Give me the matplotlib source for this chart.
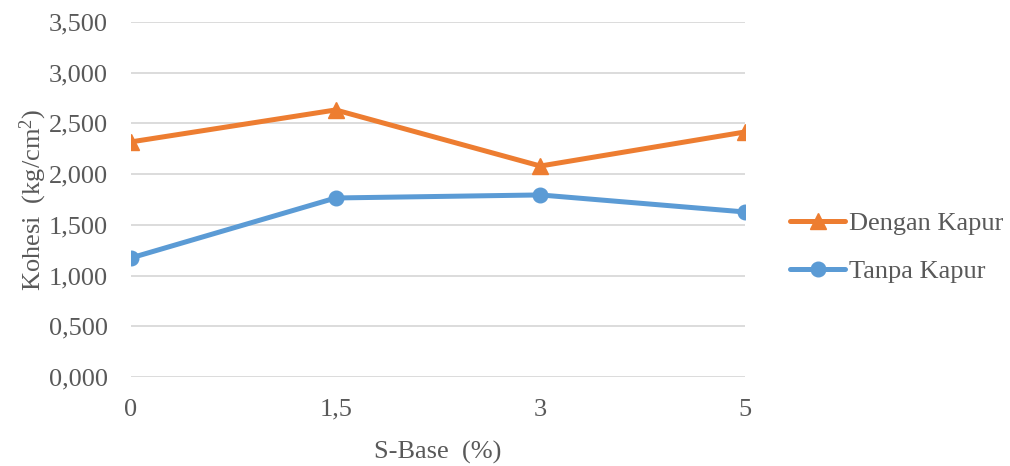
import numpy as np
import matplotlib.pyplot as plt
from matplotlib.ticker import FuncFormatter

# S-Base content (%) and cohesion values (kg/cm2)
categories = ["0", "1,5", "3", "5"]
dengan_kapur = [2.318, 2.633, 2.080, 2.416]
tanpa_kapur = [1.174, 1.765, 1.795, 1.627]

plt.rcParams["font.family"] = ["Liberation Serif", "DejaVu Serif"]
plt.rcParams["mathtext.fontset"] = "custom"
plt.rcParams["mathtext.rm"] = "Liberation Serif"
text_color = "#595959"
fs = 19

fig = plt.figure(figsize=(10.1, 4.66), dpi=100)
ax = fig.add_axes([131 / 1010, 89 / 466, 614 / 1010, 355 / 466])

x = np.arange(len(categories))
ax.plot(x, dengan_kapur, color="#ED7D31", linewidth=3.6, marker="^",
        markersize=11, label="Dengan Kapur", solid_capstyle="round")
ax.plot(x, tanpa_kapur, color="#5B9BD5", linewidth=3.6, marker="o",
        markersize=10.5, label="Tanpa Kapur", solid_capstyle="round")

ax.set_xlim(0, len(categories) - 1)
ax.set_ylim(0, 3.5)
ax.set_yticks(np.arange(0, 3.51, 0.5))
ax.yaxis.set_major_formatter(FuncFormatter(lambda v, p: f"{v:.3f}".replace(".", ",")))
ax.set_xticks(x)
ax.set_xticklabels(categories)

ax.grid(axis="y", color="#D9D9D9", linewidth=1.3)
ax.set_axisbelow(True)
for s in ax.spines.values():
    s.set_visible(False)
ax.tick_params(length=0, labelsize=fs, labelcolor=text_color)
ax.tick_params(axis="y", pad=16.5)
ax.tick_params(axis="x", pad=15.5)

ax.set_xlabel("S-Base  (%)", fontsize=fs, color=text_color, labelpad=15)
ax.set_ylabel(r"Kohesi  (kg/cm$\mathrm{^2}$)", fontsize=fs, color=text_color, labelpad=0)

leg = ax.legend(loc="center left", bbox_to_anchor=(1.073, 0.365), frameon=False,
                fontsize=fs, handlelength=2.1, handletextpad=0.15,
                labelspacing=0.95, borderaxespad=0, borderpad=0)
for t in leg.get_texts():
    t.set_color(text_color)

fig.savefig("out.png", dpi=100)
